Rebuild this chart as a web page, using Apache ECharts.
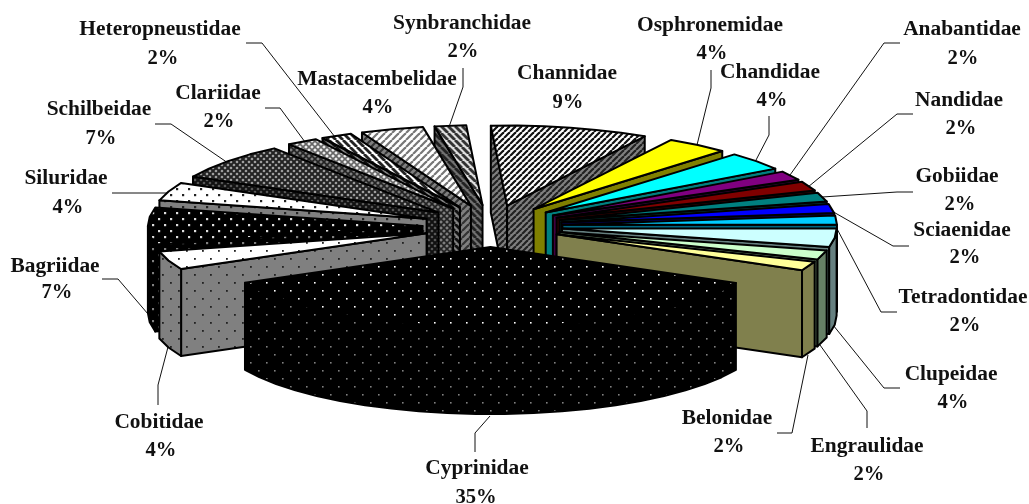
<!DOCTYPE html>
<html lang="en">
<head>
<meta charset="UTF-8">
<title>Fish families</title>
<script src="https://cdn.jsdelivr.net/npm/echarts@6/dist/echarts.min.js"></script>
<style>
    html, body { margin: 0; padding: 0; background: #fff; }
    #chart { width: 1029px; height: 504px; }
</style>
</head>
<body>
<div id="chart"></div>
<script>
// clockwise from the top, percent shares
var families = ['Channidae', 'Osphronemidae', 'Chandidae', 'Anabantidae', 'Nandidae', 'Gobiidae', 'Sciaenidae',
    'Tetradontidae', 'Clupeidae', 'Engraulidae', 'Belonidae', 'Cyprinidae', 'Cobitidae', 'Bagriidae', 'Siluridae',
    'Schilbeidae', 'Clariidae', 'Heteropneustidae', 'Mastacembelidae', 'Synbranchidae'];
var shares = [9.3, 3.7, 3.7, 1.85, 1.85, 1.85, 1.85, 1.85, 3.7, 1.85, 1.85, 35.2, 3.7, 7.4, 3.7, 7.4, 1.85, 1.85, 3.7, 1.85];

// label layout: name x, name y, percent x, percent y
var labelPos = [[567, 74, 568, 103], [710, 26, 712, 54], [770, 73, 772, 101], [962, 30, 963, 59], [959, 101, 961, 129],
    [957, 177, 960, 205], [962, 231, 965, 258], [963, 298, 965, 326], [951, 375, 953, 403], [867, 447, 869, 475],
    [727, 419, 729, 447], [477, 469, 476, 498], [159, 423, 161, 451], [55, 267, 57, 293], [66, 179, 68, 208],
    [99, 110, 101, 139], [218, 94, 219, 122], [160, 30, 163, 59], [377, 80, 378, 108], [462, 24, 463, 52]];

var leaders = [null, [[711, 70], [711, 88], [697, 145]], [[769, 116], [769, 135], [755, 162]],
    [[900, 43], [884, 43], [790, 175]], [[913, 114], [897, 114], [808, 187]], [[913, 192], [897, 192], [822, 197]],
    [[909, 246], [893, 246], [830, 210]], [[897, 312], [881, 312], [835, 225]], [[900, 388], [884, 388], [833, 325]],
    [[867, 428], [867, 411], [820, 345]], [[777, 433], [792, 433], [808, 355]], [[475, 452], [475, 433], [490, 416]],
    [[158, 405], [158, 385], [168, 347]], [[102, 279], [118, 279], [148, 314]], [[112, 193], [167, 193]],
    [[155, 124], [171, 124], [228, 163]], [[265, 108], [280, 108], [305, 142]], [[246, 43], [262, 43], [335, 137]],
    null, [[463, 68], [463, 87], [449, 127]]];

var startAngle = -3.4;
var cx = 490.5, cy = 226;    // pie centre
var rx = 274.6, ry = 80;     // top face radii
var exRight = 72, exLeft = 68, ey = 21;   // explode offset
var depth = 87;              // pie thickness

function tile(size, draw) {
    var c = document.createElement('canvas');
    c.width = c.height = size;
    draw(c.getContext('2d'), size);
    return { image: c, repeat: 'repeat' };
}
function stripes(dir, size, width, fg, bg) {
    return tile(size, function (g, s) {
        g.fillStyle = bg;
        g.fillRect(0, 0, s, s);
        g.strokeStyle = fg;
        g.lineWidth = width;
        for (var i = -s; i <= s * 2; i += s) {
            g.beginPath();
            if (dir > 0) { g.moveTo(i, s); g.lineTo(i + s, 0); } else { g.moveTo(i, 0); g.lineTo(i + s, s); }
            g.stroke();
        }
    });
}
function dots(size, dot, fg, bg) {
    return tile(size, function (g, s) {
        g.fillStyle = bg;
        g.fillRect(0, 0, s, s);
        g.fillStyle = fg;
        g.fillRect(2, 2, dot, dot);
        g.fillRect(2 + s / 2, 2 + s / 2, dot, dot);
    });
}
function cross(size, width, fg, bg) {
    return tile(size, function (g, s) {
        g.fillStyle = bg;
        g.fillRect(0, 0, s, s);
        g.strokeStyle = fg;
        g.lineWidth = width;
        g.beginPath();
        g.moveTo(0, 0); g.lineTo(s, s);
        g.moveTo(s, 0); g.lineTo(0, s);
        g.stroke();
    });
}

// [top face, side faces]
var fills = [
    [stripes(1, 6, 2.2, '#111', '#fff'), stripes(1, 6, 2.2, '#222', '#808080')],
    ['#ffff00', '#808000'],
    ['#00ffff', '#008080'],
    ['#800080', '#400040'],
    ['#800000', '#400000'],
    ['#008080', '#004040'],
    ['#0000ff', '#000080'],
    ['#00ccff', '#006680'],
    ['#ccffff', '#668080'],
    ['#ccffcc', '#668066'],
    ['#ffff99', '#80804d'],
    [dots(16, 1.6, '#fff', '#000'), dots(16, 1.6, '#808080', '#000')],
    [dots(16, 1.8, '#222', '#fff'), dots(16, 1.8, '#222', '#808080')],
    [dots(12, 2.2, '#ddd', '#000'), dots(12, 2.2, '#808080', '#000')],
    [dots(12, 2.2, '#222', '#fff'), dots(12, 2.2, '#222', '#808080')],
    [cross(6, 2, '#222', '#aaa'), cross(6, 2, '#111', '#606060')],
    [cross(6, 1.6, '#666', '#eee'), cross(6, 1.6, '#222', '#808080')],
    [stripes(-1, 7, 2.8, '#222', '#fff'), stripes(-1, 7, 2.8, '#111', '#808080')],
    [stripes(1, 7, 2.2, '#777', '#fff'), stripes(1, 7, 2.2, '#333', '#808080')],
    [stripes(-1, 7, 2.8, '#333', '#ddd'), stripes(-1, 7, 2.8, '#222', '#707070')]
];

var total = shares.reduce(function (a, b) { return a + b; }, 0);
var ranges = [];
shares.reduce(function (from, v) {
    var to = from + v / total * 360;
    ranges.push([from, to]);
    return to;
}, startAngle);

function rad(d) { return d * Math.PI / 180; }

function wedge(params, api) {
    var i = api.value(0);
    var a0 = ranges[i][0], a1 = ranges[i][1], mid = (a0 + a1) / 2;
    var sm = Math.sin(rad(mid));
    var ax = cx + (sm < 0 ? exLeft : exRight) * sm;
    var ay = cy - ey * Math.cos(rad(mid));
    function rim(a) { return [ax + rx * Math.sin(rad(a)), ay - ry * Math.cos(rad(a))]; }
    function down(p) { return [p[0], p[1] + depth]; }

    var arc = [];
    var steps = Math.max(1, Math.round((a1 - a0) / 6));
    for (var s = 0; s <= steps; s++) arc.push(rim(a0 + (a1 - a0) * s / steps));

    var apex = [ax, ay];
    var line = { stroke: '#000', lineWidth: 2, lineJoin: 'round' };
    function face(points, fill) {
        return { type: 'polygon', shape: { points: points }, style: Object.assign({ fill: fill }, line) };
    }
    var kids = [];
    // the cut faces that look towards the viewer
    if (Math.sin(rad(a0)) < 0) kids.push(face([apex, rim(a0), down(rim(a0)), down(apex)], fills[i][1]));
    if (Math.sin(rad(a1)) > 0) kids.push(face([apex, rim(a1), down(rim(a1)), down(apex)], fills[i][1]));
    // front part of the rim
    var front = arc.filter(function (p, k) {
        return Math.cos(rad(a0 + (a1 - a0) * k / steps)) < 0.02;
    });
    if (front.length > 1) {
        kids.push(face(front.concat(front.slice().reverse().map(down)), fills[i][1]));
    }
    kids.push(face([apex].concat(arc), fills[i][0]));
    return { type: 'group', children: kids };
}

// back slices first, the front ones paint over them
var order = families.map(function (n, i) { return i; }).sort(function (p, q) {
    return Math.cos(rad((ranges[q][0] + ranges[q][1]) / 2)) - Math.cos(rad((ranges[p][0] + ranges[p][1]) / 2));
});

var font = { fontFamily: '"Liberation Serif", serif', fontWeight: 'bold', fontSize: 20, fill: '#111', align: 'center', verticalAlign: 'middle' };
var extras = [];
families.forEach(function (name, i) {
    var p = labelPos[i];
    extras.push({ type: 'text', x: p[0], y: p[1], scaleX: 1.07, style: Object.assign({ text: name }, font) });
    extras.push({ type: 'text', x: p[2], y: p[3], scaleX: 1.03, style: Object.assign({ text: Math.round(shares[i]) + '%' }, font) });
    if (leaders[i]) {
        extras.push({ type: 'polyline', shape: { points: leaders[i] }, style: { stroke: '#111', lineWidth: 1, fill: null } });
    }
});

var myChart = echarts.init(document.getElementById('chart'));
myChart.setOption({
    backgroundColor: '#fff',
    animation: false,
    graphic: extras,
    series: [{
        type: 'custom',
        coordinateSystem: 'none',
        renderItem: wedge,
        data: order.map(function (i) { return { name: families[i], value: [i, shares[i]] }; })
    }]
});
</script>
</body>
</html>
